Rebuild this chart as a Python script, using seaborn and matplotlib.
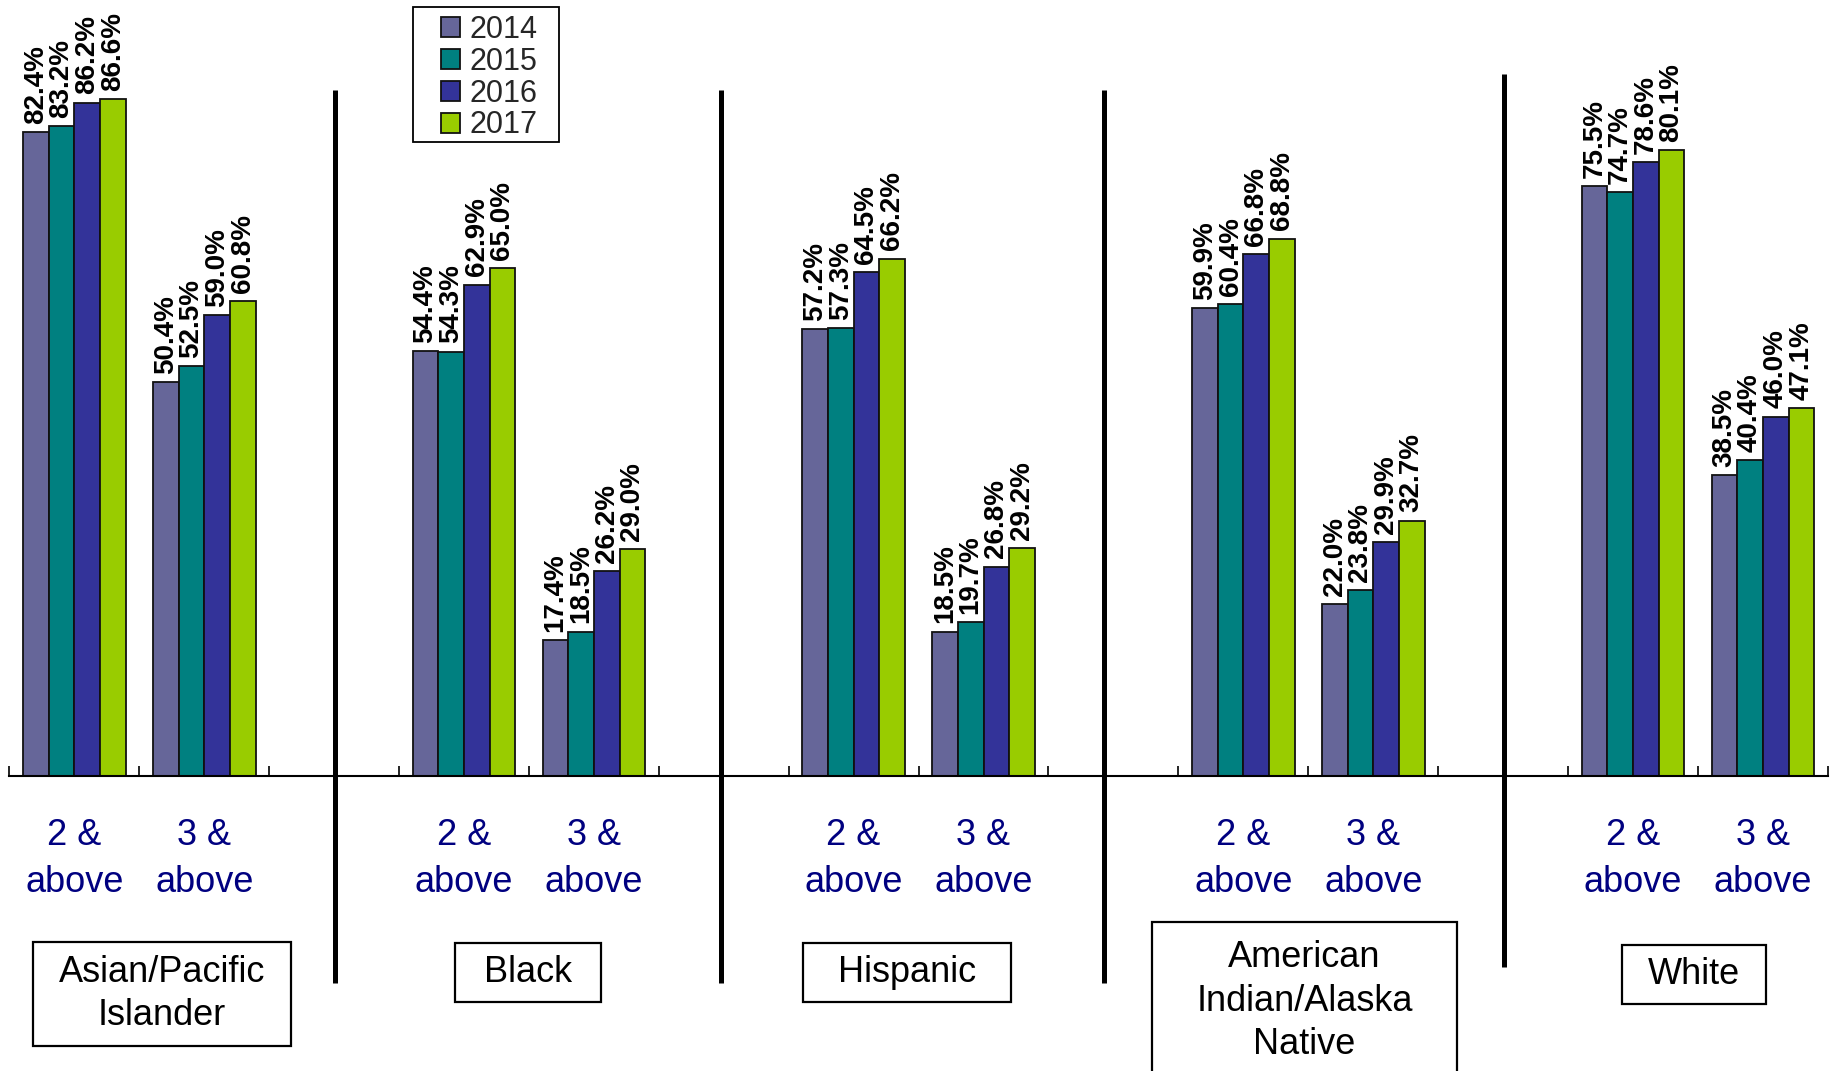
import matplotlib
matplotlib.use("Agg")
import matplotlib.pyplot as plt
import matplotlib.transforms as mtransforms
from matplotlib.patches import Rectangle
import seaborn as sns
import pandas as pd

# ---------------- data ----------------
groups = ["Asian/Pacific\nIslander", "Black", "Hispanic",
          "American\nIndian/Alaska\nNative", "White"]
levels = ["2 &\nabove", "3 &\nabove"]
years = ["2014", "2015", "2016", "2017"]

# order: (group, level) pairs -> AP 2+, AP 3+, Black 2+, Black 3+, ...
pct_2014 = [82.4, 50.4, 54.4, 17.4, 57.2, 18.5, 59.9, 22.0, 75.5, 38.5]
pct_2015 = [83.2, 52.5, 54.3, 18.5, 57.3, 19.7, 60.4, 23.8, 74.7, 40.4]
pct_2016 = [86.2, 59.0, 62.9, 26.2, 64.5, 26.8, 66.8, 29.9, 78.6, 46.0]
pct_2017 = [86.6, 60.8, 65.0, 29.0, 66.2, 29.2, 68.8, 32.7, 80.1, 47.1]

colors = ["#666699", "#008080", "#333399", "#99CC00"]

# ---------------- build table ----------------
series = [pct_2014, pct_2015, pct_2016, pct_2017]
order = []
slot_labels = []
group_slot_names = []
for gi, g in enumerate(groups):
    for lvl in levels:
        name = f"{g}|{lvl}"
        order.append(name)
        slot_labels.append(lvl)
        group_slot_names.append(name)
    if gi < len(groups) - 1:
        order.append(f"gap{gi}")
        slot_labels.append("")

rows = []
for y, vals in zip(years, series):
    for name, v in zip(group_slot_names, vals):
        rows.append({"slot": name, "year": y, "value": v})
df = pd.DataFrame(rows)

# ---------------- plot ----------------
sns.set_theme(style="white")
plt.rcParams["font.family"] = ["Liberation Sans", "DejaVu Sans"]

fig = plt.figure(figsize=(18.35, 10.71), dpi=100)
ax = fig.add_axes([0.0051, 0.2754, 0.991, 0.7295])

sns.barplot(data=df, x="slot", y="value", hue="year", order=order,
            hue_order=years, palette=colors, saturation=1, width=0.79,
            edgecolor="#111111", linewidth=1.3, ax=ax)

for cont in ax.containers:
    ax.bar_label(cont, fmt="{:.1f}%", rotation=90, padding=6,
                 fontsize=20, fontweight="bold", color="black")

ax.set_xlim(-0.5, len(order) - 0.5)
ax.set_ylim(0, 100)
ax.set_yticks([])
ax.set_xlabel("")
ax.set_ylabel("")

ax.set_xticks(range(len(order)))
ax.set_xticklabels(slot_labels, fontsize=26, color="#000080")
for lab in ax.get_xticklabels():
    lab.set_linespacing(1.45)
ax.set_xticks([i - 0.5 for i in range(len(order) + 1)], minor=True)
ax.tick_params(axis="x", which="major", length=0, pad=30, bottom=True)
ax.tick_params(axis="x", which="minor", direction="in", length=7,
               width=1.2, color="black", bottom=True)

for s in ["top", "right", "left"]:
    ax.spines[s].set_visible(False)
ax.spines["bottom"].set_color("black")
ax.spines["bottom"].set_linewidth(1.5)

# legend
handles, labels = ax.get_legend_handles_labels()
if ax.get_legend() is not None:
    ax.get_legend().remove()
leg = fig.legend(handles, labels, loc="upper left",
                 bbox_to_anchor=(0.2403, 0.986),
                 bbox_transform=fig.transFigure, fontsize=22,
                 handlelength=0.62, handleheight=0.62, handletextpad=0.3,
                 labelspacing=0.06, borderpad=0, borderaxespad=0,
                 frameon=False)

trans = mtransforms.blended_transform_factory(ax.transData, ax.transAxes)

# group dividers
dividers = [(2.01, 0.878, -0.265), (4.98, 0.878, -0.265),
            (7.93, 0.878, -0.265), (11.01, 0.899, -0.244)]
for x, y0, y1 in dividers:
    ax.plot([x, x], [y0, y1], transform=trans, color="black", lw=3.6,
            clip_on=False, solid_capstyle="butt")

# group names
group_pos = [(0.676, -0.279), (3.495, -0.251), (6.41, -0.251),
             (9.47, -0.288), (12.47, -0.254)]
group_hpad = [26, 29, 35, 44, 26]
group_vpad = [13, 12, 12, 18, 12]
gtexts = []
for g, (x, y) in zip(groups, group_pos):
    t = ax.text(x, y, g, transform=trans, ha="center", va="center",
                fontsize=26, color="black", linespacing=1.3, clip_on=False)
    gtexts.append(t)

# boxes around group names and legend
fig.canvas.draw()
renderer = fig.canvas.get_renderer()
inv = fig.transFigure.inverted()


def add_frame(bb, left, right, top, bottom, lw):
    x0, y0 = inv.transform((bb.x0 - left, bb.y0 - bottom))
    x1, y1 = inv.transform((bb.x1 + right, bb.y1 + top))
    fig.add_artist(Rectangle((x0, y0), x1 - x0, y1 - y0,
                             transform=fig.transFigure, fill=False,
                             ec="black", lw=lw, zorder=5))


for t, hp, vp in zip(gtexts, group_hpad, group_vpad):
    add_frame(t.get_window_extent(renderer), hp, hp, vp, vp, 1.6)

add_frame(leg.get_window_extent(renderer), 28, 22, 8, 2, 1.3)

fig.savefig("out.png", dpi=100)
